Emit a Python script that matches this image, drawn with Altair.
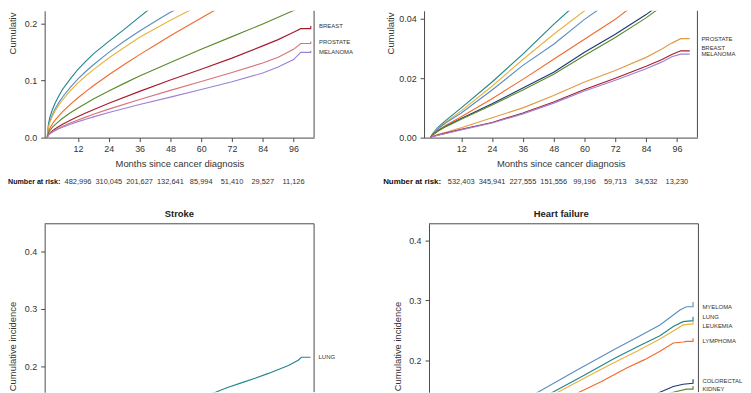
import altair as alt
import pandas as pd

FONT = "Liberation Sans"
AX = "#4a4a4a"
TXT = "#333333"

# ---------------- data ----------------
TICK_MONTHS = [12, 24, 36, 48, 60, 72, 84, 96]
RISK_A = [482996, 310045, 201627, 132641, 85994, 51410, 29527, 11126]
RISK_B = [532403, 345941, 227555, 151556, 99196, 59713, 34532, 13230]

COL = {
    "LUNG": "#22868c", "MYELOMA": "#5a8fc2", "LEUKEMIA": "#e8b440",
    "LYMPHOMA": "#f26a30", "KIDNEY": "#5c8a2e", "COLORECTAL": "#1d3b73",
    "BREAST": "#a51d2d", "PROSTATE_A": "#d9727a", "PROSTATE_B": "#e39a45",
    "MELANOMA": "#9b82d6",
}

# Panel A (top-left)
A_M = [0, 0.5, 1, 2, 3, 4.5, 6, 9, 12, 15, 18, 24, 30, 36, 42, 48, 60, 72, 84, 96, 102.6]
A_LUNG_V = [0, 0.024, 0.035, 0.049, 0.06, 0.073, 0.085, 0.103, 0.12, 0.134, 0.147, 0.169, 0.19, 0.212, 0.2335, 0.254, 0.29, 0.323, 0.355, 0.386, 0.402]
A_MYEL_V = [0, 0.020, 0.0283, 0.0403, 0.0497, 0.0614, 0.0713, 0.0883, 0.103, 0.116, 0.128, 0.1496, 0.1691, 0.187, 0.204, 0.22, 0.2494, 0.2768, 0.3026, 0.3271, 0.340]
A_LEUK_V = [0, 0.0185, 0.0263, 0.0375, 0.0462, 0.0571, 0.0664, 0.0823, 0.096, 0.1082, 0.1194, 0.1398, 0.1581, 0.176, 0.191, 0.206, 0.2338, 0.2598, 0.2842, 0.3074, 0.3197]
A_LYMP_V = [0, 0.0111, 0.0162, 0.0239, 0.0302, 0.0383, 0.0455, 0.0583, 0.070, 0.0808, 0.0910, 0.1103, 0.1284, 0.1457, 0.162, 0.1787, 0.21, 0.2408, 0.2692, 0.2978, 0.3133]
A_KIDN_V = [0, 0.0084, 0.0121, 0.0178, 0.0225, 0.0285, 0.0339, 0.0435, 0.052, 0.060, 0.0676, 0.0818, 0.0952, 0.108, 0.12, 0.132, 0.155, 0.1773, 0.1995, 0.223, 0.2365]
A_TAIL_M = [0, 0.5, 1, 2, 3, 4.5, 6, 9, 12, 15, 18, 24, 36, 48, 60, 72, 84, 90, 96, 98.8, 102.7, 102.7]
A_BREA_V = [0, 0.0054, 0.0079, 0.0118, 0.0151, 0.0194, 0.0234, 0.0305, 0.037, 0.0431, 0.049, 0.0602, 0.0812, 0.101, 0.12, 0.1395, 0.161, 0.172, 0.185, 0.1913, 0.1913, 0.196]
A_PROS_V = [0, 0.0046, 0.0068, 0.0101, 0.0129, 0.0165, 0.0198, 0.0256, 0.031, 0.036, 0.0409, 0.050, 0.067, 0.083, 0.0984, 0.1142, 0.131, 0.141, 0.155, 0.1652, 0.1652, 0.1687]
A_MELA_V = [0, 0.0045, 0.0065, 0.0096, 0.0121, 0.0154, 0.0183, 0.0234, 0.028, 0.0323, 0.0364, 0.044, 0.058, 0.071, 0.0845, 0.098, 0.1135, 0.124, 0.137, 0.1496, 0.1496, 0.1525]
A_LABELS = ["BREAST", "PROSTATE", "MELANOMA"]
A_LABEL_V = [0.1953, 0.1682, 0.1508]

# Panel B (top-right)
B_M = [0, 0.5, 1, 3, 6, 12, 24, 36, 48, 60, 72, 84, 96, 101]
B_LUNG_V = [0, 0.0008, 0.0015, 0.0035, 0.0058, 0.0100, 0.0187, 0.0281, 0.0381, 0.0475, 0.057, 0.066, 0.075, 0.079]
B_LEUK_V = [0, 0.0007, 0.0014, 0.0032, 0.0053, 0.0090, 0.0173, 0.0263, 0.0348, 0.0427, 0.0495, 0.057, 0.065, 0.068]
B_MYEL_V = [0, 0.0007, 0.0013, 0.0030, 0.0050, 0.0083, 0.0160, 0.0243, 0.0314, 0.0398, 0.047, 0.054, 0.061, 0.064]
B_LYMP_V = [0, 0.0006, 0.0011, 0.0025, 0.0042, 0.0070, 0.0131, 0.0196, 0.0264, 0.0331, 0.0398, 0.0478, 0.055, 0.058]
B_COLO_V = [0, 0.0005, 0.0010, 0.0023, 0.0038, 0.0064, 0.0114, 0.0167, 0.0220, 0.0287, 0.0348, 0.0414, 0.049, 0.051]
B_KIDN_V = [0, 0.0005, 0.0010, 0.0022, 0.0037, 0.0062, 0.0110, 0.0160, 0.0213, 0.0276, 0.0337, 0.0403, 0.048, 0.050]
B_TAIL_M = [0, 0.5, 1, 3, 6, 12, 24, 36, 48, 60, 72, 84, 90, 94, 97.5, 101]
B_PROS_V = [0, 0.0003, 0.0005, 0.0011, 0.0018, 0.0033, 0.0067, 0.0100, 0.0142, 0.0187, 0.0226, 0.0270, 0.0297, 0.0318, 0.0333, 0.0333]
B_BREA_V = [0, 0.0002, 0.0004, 0.0009, 0.0015, 0.0028, 0.0051, 0.0083, 0.0120, 0.0162, 0.0200, 0.0240, 0.0262, 0.0280, 0.0292, 0.0292]
B_MELA_V = [0, 0.0002, 0.0004, 0.0008, 0.0014, 0.0026, 0.0049, 0.0080, 0.0116, 0.0157, 0.0193, 0.0232, 0.0254, 0.0272, 0.0281, 0.0281]
B_LABELS = ["PROSTATE", "BREAST", "MELANOMA"]
B_LABEL_V = [0.0333, 0.0301, 0.0280]

# Panel C (Stroke)
C_LUNG_M = [0, 1, 3, 6, 12, 24, 36, 48, 60, 65.6, 70, 75.9, 81, 86.2, 90.1, 94, 97.8, 99.1, 102.6]
C_LUNG_V = [0, 0.01, 0.022, 0.036, 0.056, 0.085, 0.108, 0.128, 0.146, 0.1547, 0.1625, 0.1714, 0.179, 0.1874, 0.1943, 0.201, 0.2103, 0.2155, 0.2155]
C_LABELS = ["LUNG"]
C_LABEL_V = [0.2162]

# Panel D (Heart failure)
D_MYEL_M = [0, 3, 6, 12, 24, 36, 41.4, 56, 71, 80, 89, 91.6, 96.8, 99.3, 101.9, 101.9]
D_MYEL_V = [0, 0.03, 0.045, 0.068, 0.104, 0.134, 0.1466, 0.182, 0.2177, 0.238, 0.259, 0.2673, 0.2838, 0.2893, 0.2893, 0.2975]
D_LUNG_M = [0, 3, 6, 12, 24, 36, 47.2, 60, 71, 80, 89, 94.2, 98, 101.9, 101.9]
D_LUNG_V = [0, 0.025, 0.04, 0.06, 0.093, 0.121, 0.1466, 0.176, 0.2023, 0.222, 0.2408, 0.2562, 0.2645, 0.2661, 0.2727]
D_LEUK_M = [0, 3, 6, 12, 24, 36, 49.2, 60, 71, 80, 89, 94.2, 98, 101.9, 101.9]
D_LEUK_V = [0, 0.024, 0.038, 0.057, 0.089, 0.116, 0.1466, 0.171, 0.1957, 0.215, 0.2354, 0.249, 0.259, 0.2607, 0.2661]
D_LYMP_M = [0, 3, 6, 12, 24, 36, 48, 57.5, 66, 76.2, 83, 89, 94.2, 98, 99.5, 101.9, 101.9]
D_LYMP_V = [0, 0.02, 0.031, 0.047, 0.075, 0.1, 0.125, 0.1466, 0.164, 0.1874, 0.201, 0.2149, 0.2288, 0.2305, 0.2314, 0.2314, 0.2369]
D_COLO_M = [0, 3, 6, 12, 24, 36, 48, 60, 72, 80, 89, 94.2, 98, 101.9, 101.9]
D_COLO_V = [0, 0.01, 0.016, 0.026, 0.043, 0.059, 0.076, 0.094, 0.114, 0.13, 0.1466, 0.156, 0.1598, 0.1615, 0.1681]
D_KIDN_M = [0, 3, 6, 12, 24, 36, 48, 60, 72, 84, 90, 94.2, 99.3, 101.9, 101.9]
D_KIDN_V = [0, 0.009, 0.015, 0.028, 0.048, 0.066, 0.083, 0.1, 0.117, 0.134, 0.141, 0.1466, 0.1516, 0.1516, 0.157]
D_LABELS = ["MYELOMA", "LUNG", "LEUKEMIA", "LYMPHOMA", "COLORECTAL", "KIDNEY"]
D_LABEL_V = [0.2893, 0.2717, 0.2579, 0.2314, 0.1653, 0.1527]


def series_df(items):
    rows = []
    for name, color, ms, vs in items:
        for i, (m, v) in enumerate(zip(ms, vs)):
            rows.append({"series": name, "color": color, "month": m, "value": v, "idx": i})
    return pd.DataFrame(rows)


def make_panel(items, labels, label_vals, W, H, xdom, ydom, yticks, yfmt, label_dx,
               yt_x, yt_y, yt_limit=None, show_x=True, risk=None, risk_x=None,
               risk_size=8, title=None, yoffset=0, top_x0=0):
    df = series_df(items)
    one = pd.DataFrame({"k": [0]})
    xs = alt.Scale(domain=xdom, nice=False, zero=False)
    ys = alt.Scale(domain=ydom, nice=False, zero=False)
    if show_x:
        xax = alt.Axis(values=TICK_MONTHS, tickSize=4, labelPadding=3, labelFontSize=9,
                       title="Months since cancer diagnosis", titleFontSize=9.5,
                       titleFontWeight="normal", titlePadding=5, grid=False)
    else:
        xax = None
    yax = alt.Axis(values=yticks, format=yfmt, tickSize=4, labelPadding=4, labelFontSize=9,
                   title=None, grid=False, offset=yoffset)
    X = alt.X("month:Q", scale=xs, axis=xax)
    Y = alt.Y("value:Q", scale=ys, axis=yax)

    layers = []
    layers.append(alt.Chart(df).mark_line(clip=True, strokeWidth=1.15).encode(
        x=X, y=Y, color=alt.Color("color:N", scale=None), detail="series:N", order="idx:Q"))
    lab_df = pd.DataFrame({"series": labels, "value": label_vals})
    layers.append(alt.Chart(lab_df).mark_text(align="left", baseline="middle", fontSize=6,
                                              font=FONT, color=TXT, dx=label_dx).encode(
        x=alt.value(W), y=Y, text="series:N"))
    layers.append(alt.Chart(one).mark_rule(color=AX, strokeWidth=1).encode(
        x=alt.value(W), y=alt.value(0), y2=alt.value(H)))
    if not show_x:
        layers.append(alt.Chart(one).mark_rule(color=AX, strokeWidth=1).encode(
            x=alt.value(top_x0), x2=alt.value(W), y=alt.value(0)))
    tkw = dict(text="Cumulative incidence", angle=270, align="left", baseline="middle",
               fontSize=9.5, font=FONT, color=TXT)
    if yt_limit is not None:
        tkw.update(limit=yt_limit, ellipsis="\u200b")
    layers.append(alt.Chart(one).mark_text(**tkw).encode(x=alt.value(yt_x), y=alt.value(yt_y)))
    if risk is not None:
        rdf = pd.DataFrame({"month": TICK_MONTHS, "n": risk})
        layers.append(alt.Chart(rdf).mark_text(fontSize=7.5, font=FONT, color=TXT,
                                               baseline="middle").encode(
            x=X, y=alt.value(H + 44.7), text=alt.Text("n:Q", format=",")))
        layers.append(alt.Chart(one).mark_text(text="Number at risk:", align="left",
                                               baseline="middle", fontWeight="bold",
                                               fontSize=risk_size, font=FONT, color="#111111").encode(
            x=alt.value(risk_x), y=alt.value(H + 44.7)))
    if title is not None:
        layers.append(alt.Chart(one).mark_text(text=title, fontWeight="bold", fontSize=9.5,
                                               font=FONT, color="#222222",
                                               baseline="middle").encode(
            x=alt.value(W / 2), y=alt.value(-10)))
    return alt.layer(*layers).properties(width=W, height=H)


A = make_panel(
    [("LUNG", COL["LUNG"], A_M, A_LUNG_V),
     ("MYELOMA", COL["MYELOMA"], A_M, A_MYEL_V),
     ("LEUKEMIA", COL["LEUKEMIA"], A_M, A_LEUK_V),
     ("LYMPHOMA", COL["LYMPHOMA"], A_M, A_LYMP_V),
     ("KIDNEY", COL["KIDNEY"], A_M, A_KIDN_V),
     ("BREAST", COL["BREAST"], A_TAIL_M, A_BREA_V),
     ("PROSTATE", COL["PROSTATE_A"], A_TAIL_M, A_PROS_V),
     ("MELANOMA", COL["MELANOMA"], A_TAIL_M, A_MELA_V)],
    A_LABELS, A_LABEL_V, 272, 128, [-1, 104], [0, 0.2226], [0, 0.1, 0.2], ".1f", 5,
    yt_x=-31.5, yt_y=44, yt_limit=43, risk=RISK_A, risk_x=-37, risk_size=7.2)

B = make_panel(
    [("LUNG", COL["LUNG"], B_M, B_LUNG_V),
     ("LEUKEMIA", COL["LEUKEMIA"], B_M, B_LEUK_V),
     ("MYELOMA", COL["MYELOMA"], B_M, B_MYEL_V),
     ("LYMPHOMA", COL["LYMPHOMA"], B_M, B_LYMP_V),
     ("COLORECTAL", COL["COLORECTAL"], B_M, B_COLO_V),
     ("KIDNEY", COL["KIDNEY"], B_M, B_KIDN_V),
     ("PROSTATE", COL["PROSTATE_B"], B_TAIL_M, B_PROS_V),
     ("BREAST", COL["BREAST"], B_TAIL_M, B_BREA_V),
     ("MELANOMA", COL["MELANOMA"], B_TAIL_M, B_MELA_V)],
    B_LABELS, B_LABEL_V, 276, 128, [-2.5, 104], [0, 0.04267], [0, 0.02, 0.04], ".2f", 4,
    yt_x=-33, yt_y=44, yt_limit=43, risk=RISK_B, risk_x=-41.3, risk_size=8)

C = make_panel(
    [("LUNG", COL["LUNG"], C_LUNG_M, C_LUNG_V)],
    C_LABELS, C_LABEL_V, 272, 170, [-1, 104], [0.1547, 0.448], [0.2, 0.3, 0.4], ".1f", 4.5,
    yt_x=-31.7, yt_y=169, show_x=False, title="Stroke")

D = make_panel(
    [("MYELOMA", COL["MYELOMA"], D_MYEL_M, D_MYEL_V),
     ("LUNG", COL["LUNG"], D_LUNG_M, D_LUNG_V),
     ("LEUKEMIA", COL["LEUKEMIA"], D_LEUK_M, D_LEUK_V),
     ("LYMPHOMA", COL["LYMPHOMA"], D_LYMP_M, D_LYMP_V),
     ("COLORECTAL", COL["COLORECTAL"], D_COLO_M, D_COLO_V),
     ("KIDNEY", COL["KIDNEY"], D_KIDN_M, D_KIDN_V)],
    D_LABELS, D_LABEL_V, 277, 170, [-2.97, 104], [0.1466, 0.428], [0.2, 0.3, 0.4], ".1f", 4,
    yt_x=-26, yt_y=169, show_x=False, title="Heart failure", yoffset=-5, top_x0=5)

chart = alt.concat(A, B, C, D, columns=2, spacing={"row": 87, "column": 111},
                   bounds="flush").properties(
    padding={"left": 0, "top": 0, "right": 0, "bottom": 0}
).configure_view(stroke=None).configure_axis(
    domainColor=AX, tickColor=AX, labelColor=TXT, titleColor=TXT,
    labelFont=FONT, titleFont=FONT, domainWidth=1, tickWidth=1
)

chart.save("out.html", embed_options={"renderer": "svg", "actions": False})
